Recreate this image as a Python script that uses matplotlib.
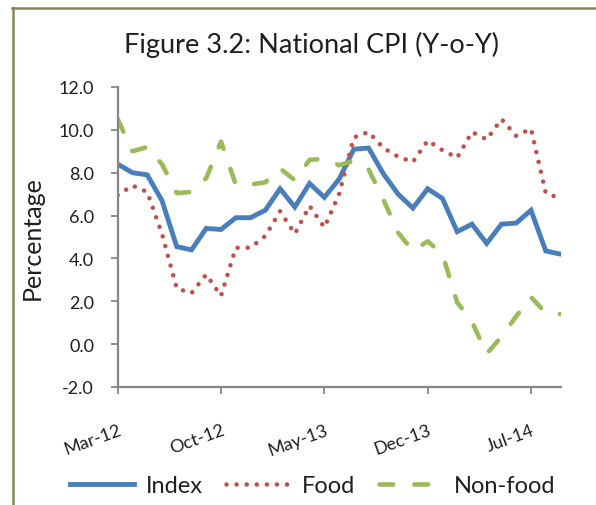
import matplotlib
matplotlib.use("Agg")
import matplotlib.pyplot as plt
from matplotlib.lines import Line2D

plt.rcParams['font.family'] = ['Lato', 'DejaVu Sans']

months = ["Mar-12", "Apr-12", "May-12", "Jun-12", "Jul-12", "Aug-12", "Sep-12", "Oct-12",
          "Nov-12", "Dec-12", "Jan-13", "Feb-13", "Mar-13", "Apr-13", "May-13", "Jun-13",
          "Jul-13", "Aug-13", "Sep-13", "Oct-13", "Nov-13", "Dec-13", "Jan-14", "Feb-14",
          "Mar-14", "Apr-14", "May-14", "Jun-14", "Jul-14", "Aug-14", "Sep-14"]
index_vals = [8.4, 8.0, 7.9, 6.7, 4.55, 4.4, 5.4, 5.35, 5.9, 5.9, 6.25, 7.25, 6.4, 7.5, 6.85,
              7.7, 9.1, 9.15, 7.95, 7.0, 6.35, 7.25, 6.8, 5.25, 5.6, 4.7, 5.6, 5.65, 6.25, 4.35, 4.2]
food_vals = [6.95, 7.4, 7.1, 5.15, 2.6, 2.38, 3.25, 2.25, 4.5, 4.5, 5.05, 6.2, 5.15, 6.45, 5.45,
             7.0, 9.65, 9.9, 9.15, 8.75, 8.5, 9.5, 9.05, 8.7, 9.9, 9.55, 10.5, 9.72, 10.05, 7.05, 6.8]
nonfood_vals = [10.5, 9.0, 9.2, 8.4, 7.05, 7.1, 7.75, 9.45, 7.45, 7.45, 7.55, 8.2, 7.65, 8.6, 8.65,
                8.35, 8.55, 8.15, 6.75, 5.2, 4.35, 4.8, 4.2, 1.95, 1.05, -0.45, 0.35, 1.3, 2.2, 1.45, 1.4]
tick_labels = ["Mar-12", "Oct-12", "May-13", "Dec-13", "Jul-14"]
y_ticks = [-2.0, 0.0, 2.0, 4.0, 6.0, 8.0, 10.0, 12.0]

c_index = '#4A7EBB'
c_food = '#C0504D'
c_nonfood = '#9BBB59'
c_axis = '#868686'
c_text = '#1F1F1F'

W, H = 596, 506
fig = plt.figure(figsize=(W / 100, H / 100), dpi=100)
ax = fig.add_axes([117.7 / W, 1 - 388 / H, (560.5 - 117.7) / W, 300 / H])

x = list(range(len(months)))
ax.plot(x, index_vals, color=c_index, lw=3.5, solid_joinstyle='miter', label='Index')
ax.plot(x, food_vals, color=c_food, lw=3.3, linestyle=(0, (0.001, 2.2)),
        dash_capstyle='round', label='Food')
ax.plot(x, nonfood_vals, color=c_nonfood, lw=3.3, linestyle=(0, (3.0, 4.6)),
        dash_capstyle='round', label='Non-food')

ax.set_xlim(0, len(months) - 1)
ax.set_ylim(-2, 12)
ax.set_yticks(y_ticks)
ax.set_yticklabels([f"{v:.1f}" for v in y_ticks])
tick_pos = [months.index(t) for t in tick_labels]
ax.set_xticks(tick_pos)
ax.set_xticklabels(tick_labels, rotation=20, ha='right', va='top', rotation_mode='anchor')

for s in ['top', 'right']:
    ax.spines[s].set_visible(False)
for s in ['left', 'bottom']:
    ax.spines[s].set_color(c_axis)
    ax.spines[s].set_linewidth(1.6)
ax.tick_params(axis='y', direction='out', length=5, width=1.3, color=c_axis,
               labelsize=13, labelcolor=c_text, pad=12)
ax.tick_params(axis='x', direction='out', length=5, width=1.3, color=c_axis,
               labelsize=13, labelcolor=c_text, pad=20)
ax.set_ylabel('Percentage', fontsize=18, color=c_text, labelpad=11)

fig.text(311.5 / W, 1 - 45 / H, 'Figure 3.2: National CPI (Y-o-Y)', ha='center', va='center',
         fontsize=19.5, color=c_text)

leg = fig.legend(loc='center', bbox_to_anchor=(313 / W, 1 - 487 / H), ncol=3, frameon=False,
                 fontsize=17, handlelength=2.7, handletextpad=0.5, columnspacing=1.0,
                 labelcolor=c_text)

# border of the original box (top and left visible)
fig.add_artist(Line2D([13 / W, 13 / W], [0, 1 - 8.5 / H], color='#8B8455', lw=1.8,
                      transform=fig.transFigure))
fig.add_artist(Line2D([12.3 / W, 1], [1 - 8.5 / H, 1 - 8.5 / H], color='#8B8455', lw=1.8,
                      transform=fig.transFigure))

fig.savefig('out.png', dpi=100)
